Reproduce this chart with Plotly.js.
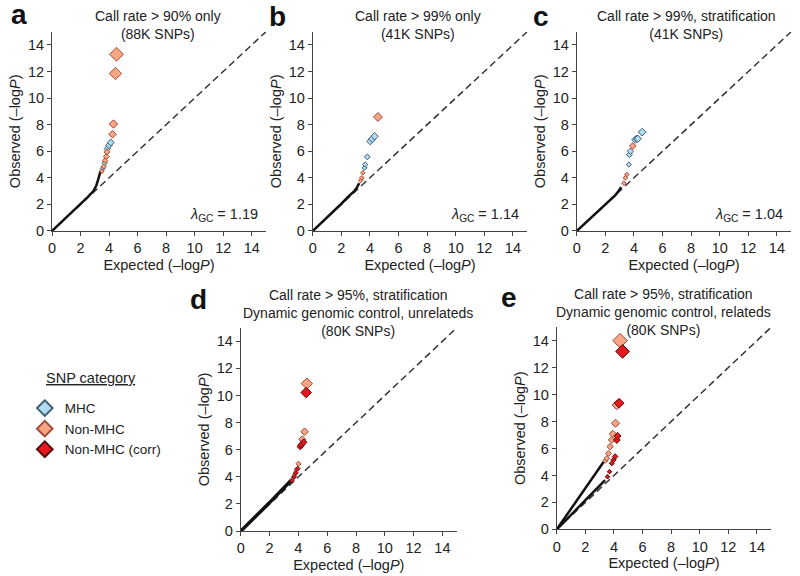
<!DOCTYPE html>
<html>
<head>
<meta charset="utf-8">
<script src="https://cdn.plot.ly/plotly-3.0.1.min.js"></script>
<style>
  body { margin: 0; background: #fff; }
  #chart { width: 800px; height: 576px; }
</style>
</head>
<body>
<div id="chart"></div>
<script>
// null line (expected = observed)
var diag = [0, 15];

// panel a: call rate > 90% only
var aBulkX = [0, 1, 2, 2.5, 2.9, 3.1, 3.27, 3.4];
var aBulkY = [0, 1, 2.02, 2.55, 3.0, 3.4, 4.0, 4.5];
var aMhcX = [3.55, 3.7, 3.88, 4.0, 4.12];
var aMhcY = [4.7, 5.1, 6.2, 6.45, 6.66];
var aNonX = [3.5, 3.62, 3.72, 3.8, 3.85, 4.24, 4.31, 4.45, 4.52];
var aNonY = [4.5, 4.85, 5.3, 5.6, 5.95, 7.28, 8.05, 11.85, 13.3];

// panel b: call rate > 99% only
var bBulkX = [0, 1, 2, 2.5, 2.9, 3.1, 3.25];
var bBulkY = [0, 1, 2.05, 2.6, 3.0, 3.3, 3.6];
var bMhcX = [3.62, 3.67, 3.81, 4.02, 4.16, 4.32];
var bMhcY = [4.75, 5.0, 5.58, 6.75, 6.93, 7.13];
var bNonX = [3.35, 3.43, 3.5, 4.56];
var bNonY = [3.8, 4.0, 4.38, 8.58];

// panel c: call rate > 99%, stratification
var cBulkX = [0, 1, 2, 2.5, 2.7, 2.95, 3.1];
var cBulkY = [0, 1, 2, 2.5, 2.7, 3.05, 3.3];
var cMhcX = [3.64, 3.68, 3.75, 4.1, 4.2, 4.27, 4.57];
var cMhcY = [5.0, 5.75, 6.0, 6.87, 6.95, 6.94, 7.44];
var cNonX = [3.3, 3.4, 3.5, 3.92];
var cNonY = [3.6, 4.0, 4.25, 6.4];

// panel d: dynamic genomic control, unrelateds
var dBulkX = [0, 1, 2, 2.5, 3, 3.3, 3.5];
var dBulkY = [0, 1.02, 2.1, 2.65, 3.2, 3.5, 3.75];
var dNonX = [3.62, 3.74, 3.85, 4.01, 4.27, 4.43, 4.59];
var dNonY = [3.9, 4.16, 4.52, 4.96, 6.77, 7.33, 10.88];
var dCorrX = [3.55, 3.7, 3.82, 3.95, 4.13, 4.2, 4.36, 4.54];
var dCorrY = [3.7, 4.0, 4.3, 4.6, 6.23, 6.36, 6.55, 10.22];

// panel e: dynamic genomic control, relateds
var eBulkX = [0, 1, 2, 2.5, 3, 3.27];
var eBulkY = [0, 1.5, 3.0, 3.75, 4.55, 5.0];
var eBulkCorrX = [0, 1, 2, 2.5, 3, 3.38];
var eBulkCorrY = [0, 1.05, 2.15, 2.7, 3.25, 3.65];
var eNonX = [3.4, 3.5, 3.62, 3.73, 3.85, 3.92, 4.11, 4.2, 4.43];
var eNonY = [5.1, 5.27, 5.64, 6.14, 6.63, 7.08, 7.87, 9.23, 14.0];
var eCorrX = [3.55, 3.69, 3.85, 3.97, 4.08, 4.2, 4.25, 4.36, 4.6];
var eCorrY = [3.9, 4.28, 4.9, 5.15, 5.4, 6.63, 6.93, 9.36, 13.2];

var lambdas = ["1.19", "1.14", "1.04"];
var titles = [
    "Call rate > 90% only<br>(88K SNPs)",
    "Call rate > 99% only<br>(41K SNPs)",
    "Call rate > 99%, stratification<br>(41K SNPs)",
    "Call rate > 95%, stratification<br>Dynamic genomic control, unrelateds<br>(80K SNPs)",
    "Call rate > 95%, stratification<br>Dynamic genomic control, relateds<br>(80K SNPs)"
];
var letters = ["a", "b", "c", "d", "e"];

var FONT = "Liberation Sans, Arial, Helvetica, sans-serif";
var colMhc = "#afdcf2";
var colNon = "#f6a585";
var colCorr = "#e41a1f";

// bigger diamonds for more extreme points
function sizes(ys) {
    return ys.map(function(v) { return Math.max(3.5, v * 0.8); });
}

var traces = [];
var suffix = ["", "2", "3", "4", "5"];

function diagTrace(i) {
    return {
        x: diag, y: diag, xaxis: "x" + suffix[i], yaxis: "y" + suffix[i],
        mode: "lines", line: {color: "#333", width: 1.5, dash: "7px,4px"},
        showlegend: false, hoverinfo: "skip"
    };
}
function bulkTrace(i, xs, ys, w) {
    return {
        x: xs, y: ys, xaxis: "x" + suffix[i], yaxis: "y" + suffix[i],
        mode: "lines", line: {color: "#111", width: w},
        showlegend: false, cliponaxis: false
    };
}
function catTrace(i, xs, ys, name, color, edge, show) {
    return {
        x: xs, y: ys, xaxis: "x" + suffix[i], yaxis: "y" + suffix[i],
        mode: "markers", name: name, legendgroup: name, showlegend: show,
        cliponaxis: false,
        marker: {symbol: "diamond", size: sizes(ys), color: color, opacity: 1,
                 line: {color: edge, width: 1}}
    };
}

traces.push(diagTrace(0), bulkTrace(0, aBulkX, aBulkY, 2.5),
    catTrace(0, aMhcX, aMhcY, "MHC", colMhc, "#3f5f72", true),
    catTrace(0, aNonX, aNonY, "Non-MHC", colNon, "#a04a34", true));
traces.push(diagTrace(1), bulkTrace(1, bBulkX, bBulkY, 2.5),
    catTrace(1, bMhcX, bMhcY, "MHC", colMhc, "#3f5f72", false),
    catTrace(1, bNonX, bNonY, "Non-MHC", colNon, "#a04a34", false));
traces.push(diagTrace(2), bulkTrace(2, cBulkX, cBulkY, 2.5),
    catTrace(2, cMhcX, cMhcY, "MHC", colMhc, "#3f5f72", false),
    catTrace(2, cNonX, cNonY, "Non-MHC", colNon, "#a04a34", false));
traces.push(diagTrace(3), bulkTrace(3, dBulkX, dBulkY, 3.5),
    catTrace(3, dNonX, dNonY, "Non-MHC", colNon, "#a04a34", false),
    catTrace(3, dCorrX, dCorrY, "Non-MHC (corr)", colCorr, "#5a0a0a", true));
traces.push(diagTrace(4), bulkTrace(4, eBulkX, eBulkY, 2.5), bulkTrace(4, eBulkCorrX, eBulkCorrY, 2.5),
    catTrace(4, eNonX, eNonY, "Non-MHC", colNon, "#a04a34", false),
    catTrace(4, eCorrX, eCorrY, "Non-MHC (corr)", colCorr, "#5a0a0a", false));

// panel boxes in paper coords [x0, x1, y0, y1]
var boxes = [
    [0.065, 0.3325, 0.599, 0.945],
    [0.391, 0.659, 0.599, 0.945],
    [0.721, 0.989, 0.599, 0.945],
    [0.301, 0.571, 0.078, 0.431],
    [0.696, 0.964, 0.081, 0.432]
];

var layout = {
    width: 800, height: 576,
    margin: {l: 0, r: 0, t: 0, b: 0},
    paper_bgcolor: "#fff", plot_bgcolor: "#fff",
    font: {family: FONT, size: 14, color: "#222"},
    showlegend: true,
    legend: {x: 0.031, y: 0.318, xanchor: "left", yanchor: "top",
             font: {size: 13.5, color: "#222"}, itemsizing: "constant",
             traceorder: "normal", bgcolor: "rgba(0,0,0,0)"},
    annotations: [],
    shapes: []
};

boxes.forEach(function(b, i) {
    var ax = {
        domain: [b[0], b[1]], range: [0, 15], anchor: "y" + suffix[i],
        showgrid: false, zeroline: false, showline: true, linecolor: "#444", linewidth: 1,
        ticks: "outside", ticklen: 4, tickcolor: "#444", tick0: 0, dtick: 2,
        tickfont: {size: 14.5, color: "#222"},
        title: {text: "Expected (\u2013log<i>P</i>)", font: {size: 14.5}, standoff: 4}
    };
    var ay = {
        domain: [b[2], b[3]], range: [0, 15], anchor: "x" + suffix[i],
        showgrid: false, zeroline: false, showline: true, linecolor: "#444", linewidth: 1,
        ticks: "outside", ticklen: 4, tickcolor: "#444", tick0: 0, dtick: 2,
        tickfont: {size: 14.5, color: "#222"},
        title: {text: "Observed (\u2013log<i>P</i>)", font: {size: 14.5}, standoff: 3}
    };
    layout["xaxis" + suffix[i]] = ax;
    layout["yaxis" + suffix[i]] = ay;
});

// titles above each panel
var titlePos = [[158, 6], [418, 6], [686, 6], [358, 285], [663, 284]];
var letterPos = [[19, 15], [277, 17], [541, 17], [198, 299], [509, 297]];
titles.forEach(function(t, i) {
    layout.annotations.push({
        text: t, xref: "paper", yref: "paper",
        x: titlePos[i][0] / 800, y: 1 - titlePos[i][1] / 576,
        xanchor: "center", yanchor: "top", showarrow: false,
        font: {size: 14, color: "#222"}
    });
    layout.annotations.push({
        text: "<b>" + letters[i] + "</b>", xref: "paper", yref: "paper",
        x: letterPos[i][0] / 800, y: 1 - letterPos[i][1] / 576,
        xanchor: "center", yanchor: "middle", showarrow: false,
        font: {size: 28, color: "#111"}
    });
});

lambdas.forEach(function(l, i) {
    layout.annotations.push({
        text: "<i>\u03bb</i><sub>GC</sub> = " + l,
        xref: "x" + suffix[i], yref: "y" + suffix[i], x: 14.6, y: 1.2,
        xanchor: "right", yanchor: "middle", showarrow: false,
        font: {size: 14.5, color: "#222"}
    });
});

layout.annotations.push({
    text: "<u>SNP category</u>", xref: "paper", yref: "paper",
    x: 44 / 800, y: 1 - 378 / 576, xanchor: "left", yanchor: "middle",
    showarrow: false, font: {size: 14.5, color: "#222"}
});

Plotly.newPlot("chart", traces, layout, {staticPlot: true});
</script>
</body>
</html>
